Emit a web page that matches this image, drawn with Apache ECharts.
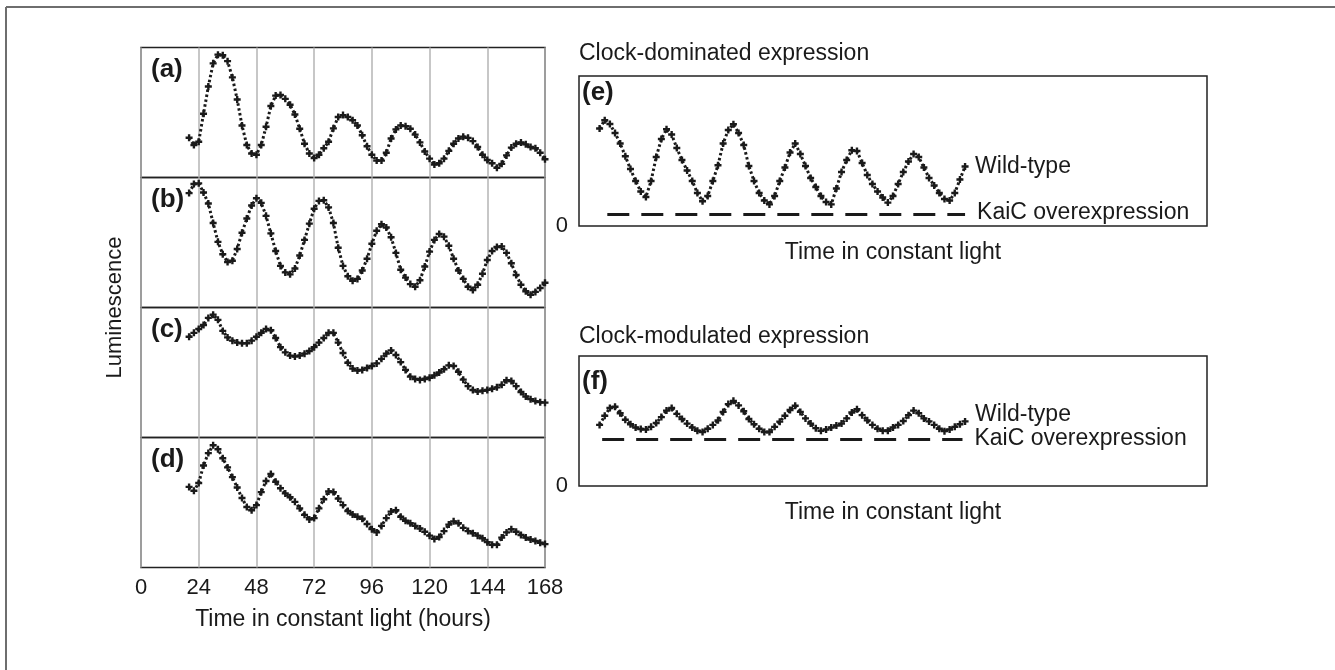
<!DOCTYPE html>
<html>
<head>
<meta charset="utf-8">
<title>KaiC luminescence</title>
<script src="https://cdn.jsdelivr.net/npm/echarts@6/dist/echarts.min.js"></script>
<style>
  html, body { margin: 0; padding: 0; background: #fff; }
  #main { width: 1335px; height: 670px; }
</style>
</head>
<body>
<div id="main"></div>
<script>
// hours in constant light, panels (a)-(d)
const hoursLeft = [20, 22, 24, 26, 28, 30, 32, 34, 36, 38, 40, 42, 44, 46, 48, 50, 52, 54, 56, 58,
  60, 62, 64, 66, 68, 70, 72, 74, 76, 78, 80, 82, 84, 86, 88, 90, 92, 94, 96, 98,
  100, 102, 104, 106, 108, 110, 112, 114, 116, 118, 120, 122, 124, 126, 128, 130, 132, 134, 136, 138,
  140, 142, 144, 146, 148, 150, 152, 154, 156, 158, 160, 162, 164, 166, 168]

const lumA = [30.6, 25, 27.5, 49, 70, 87.8, 94.5, 94, 89.5, 77, 60, 40, 25, 18.5, 17.5, 25, 39, 55, 63, 63.5,
  60.5, 56, 48.5, 37.5, 26, 18.5, 15, 17.5, 22.5, 27.5, 37.8, 46.5, 48, 46.5, 44, 40, 32.5, 24, 17.5, 13,
  13, 19, 30, 37, 40, 39.5, 37.5, 33, 27, 20, 14.5, 10, 11, 14.5, 20.5, 26, 30, 31.4, 30.5, 28,
  23.5, 17.5, 13.5, 11, 7.5, 10.5, 17, 23, 26, 27, 25.5, 23.5, 22.5, 19, 14]

const lumB = [88, 95, 95.5, 88.5, 80, 65, 50.5, 41, 35, 36, 45, 57.5, 68.5, 78.5, 84, 80.5, 70.5, 57, 43.5, 32,
  27, 25.5, 30, 40, 52, 64.5, 76, 82, 82.5, 77, 65, 46, 32, 24, 20.5, 22, 28.5, 37.5, 49, 59,
  64, 61.5, 54, 42, 29, 23, 18, 16, 21, 31.5, 43, 52, 56.5, 54.5, 47.5, 37.5, 28.5, 22, 16, 13.5,
  17.5, 26, 36.5, 43.5, 46.5, 47, 42, 34, 25, 17.5, 12.5, 9.8, 12, 15, 19]

const lumC = [77.5, 80.5, 83.5, 86.5, 92, 94.5, 90.5, 82, 77, 74.5, 73, 72.5, 72.5, 74.5, 77.5, 80.5, 83.5, 82.5, 76.5, 69.5,
  65.5, 63, 62.3, 63, 64.5, 66.5, 69.5, 73, 76.5, 80.5, 80.5, 73, 65, 57.5, 53, 51.5, 52, 53.5, 55, 57,
  60.5, 64.5, 67, 63.5, 58, 52, 46.8, 45, 44.3, 45, 46, 47.8, 50, 52.5, 55.5, 55, 50.5, 44.5, 39.5, 36.5,
  35.3, 36, 36.6, 37.5, 38.6, 40.5, 44, 43.5, 39.5, 35, 31.5, 29.5, 28, 27.2, 26.8]

const lumD = [62, 59, 65, 78.5, 88, 94, 91, 84, 77, 69.5, 61.5, 53.5, 46.5, 44, 48, 58, 66.5, 71.9, 66, 61,
  57, 54, 50.5, 45.5, 40.5, 37, 38, 45.5, 52.5, 58.5, 58, 53, 48, 43.5, 40.8, 39, 37.5, 33.5, 29.5, 27,
  32, 38, 43, 44, 39, 36, 34, 32, 30, 27.5, 24.5, 22, 23.5, 28, 33, 35.5, 34, 30.5, 28, 26.3,
  24.5, 22.5, 19.5, 17.5, 17.5, 23, 27, 29.4, 27.5, 25, 23, 21.5, 20.4, 19, 18]

// panels (e) and (f): unlabelled time axis
const hoursRight = [8, 10, 12, 14, 16, 18, 20, 22, 24, 26, 28, 30, 32, 34, 36, 38, 40, 42, 44, 46,
  48, 50, 52, 54, 56, 58, 60, 62, 64, 66, 68, 70, 72, 74, 76, 78, 80, 82, 84, 86,
  88, 90, 92, 94, 96, 98, 100, 102, 104, 106, 108, 110, 112, 114, 116, 118, 120, 122, 124, 126,
  128, 130, 132, 134, 136, 138, 140, 142, 144, 146, 148, 150]

const clockDominated = [65, 70.5, 68, 62, 55, 46.5, 38, 30, 23, 19.3, 30, 46, 58, 64.5, 61, 52, 44, 37, 30, 22,
  16.5, 20, 30, 40.5, 55, 64, 67.8, 62, 54, 40, 30, 22, 17, 14.4, 20, 30, 39, 49, 55, 48,
  40, 32, 26, 20, 16, 14.4, 25, 36, 44, 50.5, 50, 42, 34, 28, 23, 19, 15.6, 20, 28, 36,
  43, 48, 46, 39, 32, 27, 22, 18, 17, 22, 31, 39.7]

const clockModulated = [47, 54, 60, 61, 56, 51, 47.5, 45, 43.8, 43.5, 45.5, 48.5, 53, 58, 60, 55.5, 51.5, 48, 45, 42.5,
  41.5, 44, 47, 50.5, 57, 63, 65.5, 62, 57.5, 51.5, 47.5, 44, 41.5, 41.5, 45.5, 49.5, 54, 58.5, 61.7, 57,
  52, 48, 44.5, 42.5, 43.5, 45, 46.5, 48, 52, 56.5, 59, 54.5, 50.5, 47, 44, 42.5, 42.5, 45, 47, 50,
  54.5, 58, 56, 52, 49.7, 47, 44, 42.2, 43.5, 45.5, 47.5, 49.7]

const kaicHoursE = [11, 150]
const kaicDominated = [7.7, 7.7]
const kaicHoursF = [9, 149]
const kaicModulated = [35.7, 35.7]

const xTicks = { min: 0, max: 168, interval: 24 }
const panelNames = ['(a)', '(b)', '(c)', '(d)']

const FONT = 'Liberation Sans, Arial, Helvetica, sans-serif'
const INK = '#1a1a1a'
const PLUS = 'path://M3.3,0H6.7V3.3H10V6.7H6.7V10H3.3V6.7H0V3.3H3.3Z'

const chart = echarts.init(document.getElementById('main'))

const pair = (xs, ys) => xs.map((x, i) => [x, ys[i]])

const leftTops = [47.5, 177.5, 307.5, 437.5]
const grids = leftTops.map(top => ({
  left: 141, top: top, width: 404, height: 130,
  show: true, borderColor: '#222', borderWidth: 1.5,
}))
grids.push({ left: 579, top: 76, width: 628, height: 150, show: true, borderColor: '#222', borderWidth: 1.5 })
grids.push({ left: 579, top: 356, width: 628, height: 130, show: true, borderColor: '#222', borderWidth: 1.5 })

const xAxes = leftTops.map((t, i) => ({
  type: 'value', gridIndex: i, min: xTicks.min, max: xTicks.max, interval: xTicks.interval,
  axisLine: { show: false }, axisTick: { show: false },
  splitLine: { show: true, lineStyle: { color: '#b4b4b4', width: 1.5 } },
  axisLabel: { show: i === 3, color: INK, fontFamily: FONT, fontSize: 22, margin: 9 },
  name: i === 3 ? 'Time in constant light (hours)' : '',
  nameLocation: 'middle', nameGap: 41,
  nameTextStyle: { color: INK, fontFamily: FONT, fontSize: 23 },
}))
;[4, 5].forEach(i => xAxes.push({
  type: 'value', gridIndex: i, min: 0, max: 244,
  axisLine: { show: false }, axisTick: { show: false }, splitLine: { show: false },
  axisLabel: { show: false },
  name: 'Time in constant light', nameLocation: 'middle', nameGap: 15,
  nameTextStyle: { color: INK, fontFamily: FONT, fontSize: 23 },
}))

const yAxes = [0, 1, 2, 3, 4, 5].map(i => ({
  type: 'value', gridIndex: i, min: 0, max: 100, interval: 100,
  axisLine: { show: false }, axisTick: { show: false }, splitLine: { show: false },
  axisLabel: {
    show: i >= 4, color: INK, fontFamily: FONT, fontSize: 22, margin: 11,
    formatter: v => (v === 0 ? '0' : ''),
  },
}))

function plusSeries(idx, data, endText, endOffset) {
  return {
    type: 'line', xAxisIndex: idx, yAxisIndex: idx, data: data,
    symbol: PLUS, symbolSize: 7, showSymbol: true, showAllSymbol: true,
    itemStyle: { color: INK },
    lineStyle: { color: INK, width: 3, type: [2.5, 2.5] },
    endLabel: endText ? {
      show: true, formatter: endText, distance: 10, offset: endOffset,
      color: INK, fontFamily: FONT, fontSize: 23,
    } : { show: false },
    silent: true, z: 3,
  }
}

function dashSeries(idx, data, offset) {
  return {
    type: 'line', xAxisIndex: idx, yAxisIndex: idx, data: data,
    showSymbol: false, lineStyle: { color: INK, width: 3, type: [22, 12] },
    endLabel: {
      show: true, formatter: 'KaiC overexpression', distance: 12, offset: offset,
      color: INK, fontFamily: FONT, fontSize: 23,
    },
    silent: true, z: 3,
  }
}

const series = [
  plusSeries(0, pair(hoursLeft, lumA)),
  plusSeries(1, pair(hoursLeft, lumB)),
  plusSeries(2, pair(hoursLeft, lumC)),
  plusSeries(3, pair(hoursLeft, lumD)),
  plusSeries(4, pair(hoursRight, clockDominated), 'Wild-type', [0, 0]),
  dashSeries(4, pair(kaicHoursE, kaicDominated), [0, -2]),
  plusSeries(5, pair(hoursRight, clockModulated), 'Wild-type', [0, -7]),
  dashSeries(5, pair(kaicHoursF, kaicModulated), [0, -1]),
]

const bold = { color: INK, fontFamily: FONT, fontSize: 26, fontWeight: 'bold' }
const plain = { color: INK, fontFamily: FONT, fontSize: 23, fontWeight: 'normal' }

const titles = panelNames.map((name, i) => ({
  text: name, left: 151, top: leftTops[i] + 9, padding: 0, textStyle: bold,
}))
titles.push({ text: '(e)', left: 582, top: 80, padding: 0, textStyle: bold })
titles.push({ text: '(f)', left: 582, top: 369, padding: 0, textStyle: bold })
titles.push({ text: 'Clock-dominated expression', left: 579, top: 42, padding: 0, textStyle: plain })
titles.push({ text: 'Clock-modulated expression', left: 579, top: 325, padding: 0, textStyle: plain })

chart.setOption({
  animation: false,
  backgroundColor: '#fff',
  title: titles,
  grid: grids,
  xAxis: xAxes,
  yAxis: yAxes,
  series: series,
  graphic: [
    { type: 'line', shape: { x1: 6, y1: 7, x2: 1335, y2: 7 }, style: { stroke: '#6e6e6e', lineWidth: 2 } },
    { type: 'line', shape: { x1: 6, y1: 7, x2: 6, y2: 670 }, style: { stroke: '#6e6e6e', lineWidth: 2 } },
    {
      type: 'text', x: 115, y: 307.5, rotation: Math.PI / 2,
      style: { text: 'Luminescence', fill: INK, font: '22px ' + FONT, align: 'center', verticalAlign: 'middle' },
    },
  ],
})
</script>
</body>
</html>
